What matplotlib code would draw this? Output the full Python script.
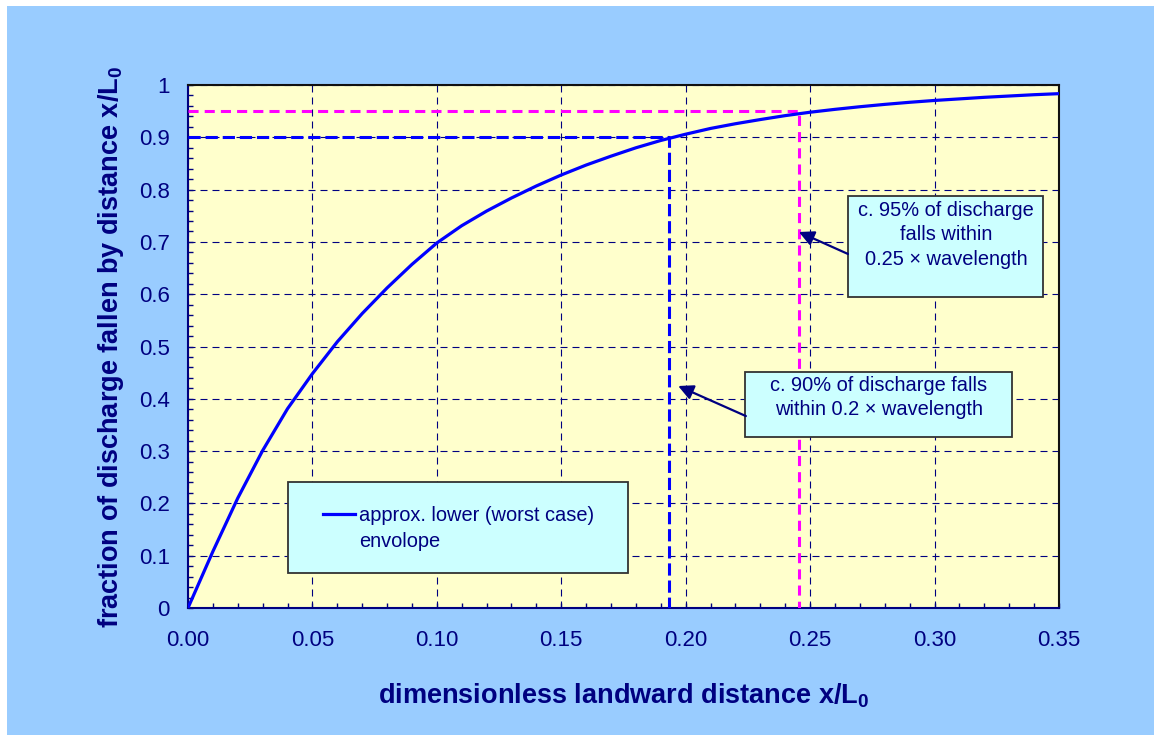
import matplotlib
matplotlib.use('Agg')
import matplotlib.pyplot as plt
from matplotlib.patches import Rectangle
from matplotlib.ticker import MultipleLocator

plt.rcParams['font.family'] = ['Liberation Sans', 'DejaVu Sans']
plt.rcParams['mathtext.fontset'] = 'custom'
plt.rcParams['mathtext.rm'] = 'Liberation Sans'
plt.rcParams['mathtext.bf'] = 'Liberation Sans:bold'

NAVY = '#000080'

# curve: fraction of discharge fallen by distance x/L0
x_dist = [0.00, 0.01, 0.02, 0.03, 0.04, 0.05, 0.06, 0.07, 0.08, 0.09,
          0.10, 0.11, 0.12, 0.13, 0.14, 0.15, 0.16, 0.17, 0.18, 0.19,
          0.20, 0.21, 0.22, 0.23, 0.24, 0.25, 0.26, 0.27, 0.28, 0.29,
          0.30, 0.31, 0.32, 0.33, 0.34, 0.35]
frac_fallen = [0.000, 0.108, 0.210, 0.301, 0.381, 0.448, 0.509, 0.563, 0.612, 0.657,
               0.698, 0.731, 0.759, 0.784, 0.807, 0.828, 0.847, 0.864, 0.880, 0.894,
               0.906, 0.917, 0.926, 0.934, 0.9415, 0.948, 0.9535, 0.9585, 0.963, 0.967,
               0.9705, 0.9735, 0.9765, 0.979, 0.9815, 0.9835]

x_ticks = [0.00, 0.05, 0.10, 0.15, 0.20, 0.25, 0.30, 0.35]
x_tick_labels = ['0.00', '0.05', '0.10', '0.15', '0.20', '0.25', '0.30', '0.35']
y_ticks = [0, 0.1, 0.2, 0.3, 0.4, 0.5, 0.6, 0.7, 0.8, 0.9, 1.0]
y_tick_labels = ['0', '0.1', '0.2', '0.3', '0.4', '0.5', '0.6', '0.7', '0.8', '0.9', '1']

# reference points (90% and 95% of discharge)
x90, y90 = 0.1935, 0.90
x95, y95 = 0.2455, 0.95

fig = plt.figure(figsize=(11.61, 7.42), dpi=100, facecolor='white')
fig.add_artist(Rectangle((7 / 1161, 7 / 742), 1147 / 1161, 729 / 742,
                         transform=fig.transFigure, facecolor='#99CCFF',
                         edgecolor='none', zorder=-5))

ax = fig.add_axes([0.1619, 0.1806, 0.7502, 0.7048])
ax.set_facecolor('#FFFFCC')

ax.plot(x_dist, frac_fallen, color='#0000FF', lw=2.3, zorder=4,
        label='approx. lower (worst case)')
ax.plot([0, x90, x90], [y90, y90, 0], color='#0000FF', lw=2.2,
        dashes=(4, 1.6), zorder=3)
ax.plot([0, x95, x95], [y95, y95, 0], color='#FF00FF', lw=2.2,
        dashes=(3.3, 2), zorder=3)

ax.set_xlim(0, 0.35)
ax.set_ylim(0, 1)
ax.set_xticks(x_ticks, x_tick_labels)
ax.set_yticks(y_ticks, y_tick_labels)
ax.xaxis.set_minor_locator(MultipleLocator(0.01))
ax.yaxis.set_minor_locator(MultipleLocator(0.02))
ax.tick_params(which='both', direction='in', length=3.6, width=1,
               color=NAVY, labelcolor=NAVY, labelsize=16)
ax.tick_params(axis='x', pad=16)
ax.tick_params(axis='y', pad=13)
ax.grid(True, which='major', color=NAVY, lw=0.8, linestyle=(0, (6.3, 4.5)))
ax.set_axisbelow(True)

for side in ['left', 'bottom']:
    ax.spines[side].set_color(NAVY)
    ax.spines[side].set_linewidth(1.5)
for side in ['top', 'right']:
    ax.spines[side].set_color('#111111')
    ax.spines[side].set_linewidth(1.5)

ax.set_xlabel(r'dimensionless landward distance x/L$_\mathbf{0}$', fontsize=19.5,
              fontweight='bold', color=NAVY, labelpad=22)
ax.set_ylabel(r'fraction of discharge fallen by distance x/L$_\mathbf{0}$', fontsize=19.5,
              fontweight='bold', color=NAVY, labelpad=9)

# text boxes
box_kw = dict(facecolor='#CCFFFF', edgecolor='#333333', lw=1.3, zorder=5)
ax.add_patch(Rectangle((0.2652, 0.5947), 0.0784, 0.1933, **box_kw))
ax.text(0.3046, 0.714, 'c. 95% of discharge\nfalls within\n0.25 \u00d7 wavelength',
        ha='center', va='center', fontsize=14.4, color=NAVY, linespacing=1.37, zorder=6)
ax.add_patch(Rectangle((0.2238, 0.327), 0.1073, 0.1242, **box_kw))
ax.text(0.2777, 0.4025, 'c. 90% of discharge falls\nwithin 0.2 \u00d7 wavelength',
        ha='center', va='center', fontsize=14.4, color=NAVY, linespacing=1.37, zorder=6)

arrow_kw = dict(arrowstyle='-|>,head_length=0.5,head_width=0.25', color=NAVY,
                lw=1.6, mutation_scale=18, shrinkA=0, shrinkB=0)
ax.annotate('', xy=(x95, 0.719), xytext=(0.2652, 0.677), arrowprops=arrow_kw, zorder=6)
ax.annotate('', xy=(0.197, 0.4245), xytext=(0.2242, 0.367), arrowprops=arrow_kw, zorder=6)

# legend (second line of the label written below the entry)
ax.add_patch(Rectangle((0.0402, 0.0669), 0.1366, 0.1741, **box_kw))
leg = ax.legend(loc='center left', bbox_to_anchor=(0.0542, 0.176),
                bbox_transform=ax.transData, frameon=False, fontsize=14.4,
                borderpad=0, handlelength=1.6, handletextpad=0.2, borderaxespad=0)
for t in leg.get_texts():
    t.set_color(NAVY)
leg.set_zorder(7)
ax.text(0.0687, 0.128, 'envolope', ha='left', va='center', fontsize=14.4,
        color=NAVY, zorder=7)

fig.savefig('out.png', dpi=100, facecolor=fig.get_facecolor())
